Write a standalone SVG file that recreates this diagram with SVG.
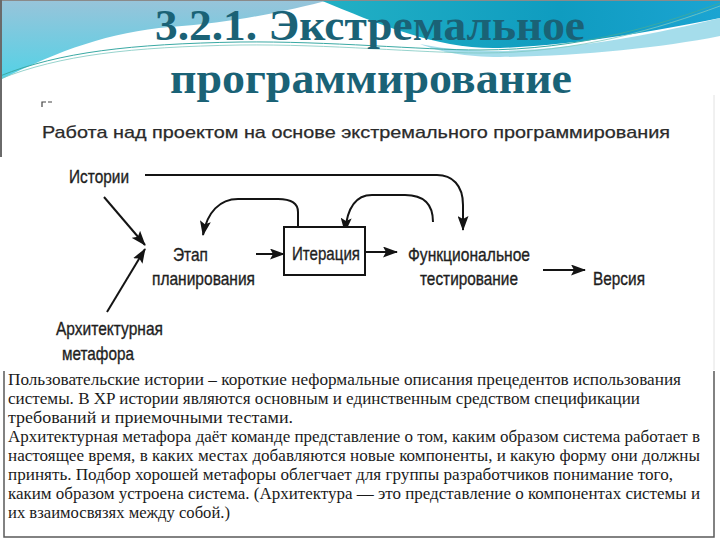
<svg xmlns="http://www.w3.org/2000/svg" width="720" height="540" viewBox="0 0 720 540">
<style>
.title{font-family:"Liberation Serif","Times New Roman",serif;font-weight:bold;font-size:45px;fill:#1a6276}
.lbl{font-family:"Liberation Sans",Arial,sans-serif;font-size:19px;fill:#1e1e1e;stroke:#1e1e1e;stroke-width:0.35}
.sub{font-family:"Liberation Sans",Arial,sans-serif;font-size:17px;fill:#2a2a2a;stroke:#2a2a2a;stroke-width:0.25}
.body{font-family:"Liberation Serif","Times New Roman",serif;font-size:16px;fill:#1a1a1a}
.con{fill:none;stroke:#141414;stroke-width:2}
</style>
<defs>
<linearGradient id="gLeft" x1="0" y1="0" x2="0" y2="1">
<stop offset="0" stop-color="#98c4da"/>
<stop offset="1" stop-color="#52d2e6"/>
</linearGradient>
<linearGradient id="gRight" x1="0" y1="0" x2="1" y2="0">
<stop offset="0" stop-color="#22b0c4"/>
<stop offset="0.6" stop-color="#0f9cc0"/>
<stop offset="1" stop-color="#1ba4d2"/>
</linearGradient>
<marker id="arr" markerUnits="userSpaceOnUse" markerWidth="15" markerHeight="11" refX="14" refY="5.5" orient="auto" viewBox="0 0 15 11">
<path d="M0,0 L15,5.5 L0,11 L3,5.5 Z" fill="#141414"/>
</marker>
</defs>

<rect x="0" y="0" width="720" height="540" fill="#ffffff"/>

<g id="background">
<path d="M0,0 H330 C290,10 240,22 170,27 C110,32 60,50 0,80 Z" fill="url(#gLeft)"/>
<path d="M320,0 H720 V18 C660,30 580,45 500,48 C440,50 380,25 320,0 Z" fill="url(#gRight)"/>
<path d="M420,44 C450,50 475,51 500,51 C580,49 660,33 720,18 V36 C660,48 580,56 500,57 C465,57 440,52 420,44 Z" fill="#8fd5e6" opacity="0.8"/>
<path d="M0,76 C60,52 130,44 240,42 C330,41 420,50 480,50 C580,50 660,25 720,3" fill="none" stroke="#3aa9a4" stroke-width="1"/>
<path d="M0,79 C60,55 130,47 240,45 C330,44 420,53 480,53 C580,53 660,28 720,6" fill="none" stroke="#7cc8c0" stroke-width="0.8"/>
<line x1="0" y1="0.5" x2="720" y2="0.5" stroke="#8a8a8a" stroke-width="1"/>
<rect x="0" y="0" width="2" height="157" fill="#6a6a6a"/>
<line x1="714" y1="95" x2="714" y2="370" stroke="#e2e2e2" stroke-width="1"/>
<path d="M42,107 V102 H46 M48,102 H52" fill="none" stroke="#444" stroke-width="1.2"/>
</g>

<g id="title">
<text class="title" x="155" y="40" textLength="430" lengthAdjust="spacingAndGlyphs">3.2.1. Экстремальное</text>
<text class="title" x="170" y="93" textLength="402" lengthAdjust="spacingAndGlyphs">программирование</text>
</g>

<g id="caption">
<text class="sub" x="42" y="138" textLength="628" lengthAdjust="spacingAndGlyphs">Работа над проектом на основе экстремального программирования</text>
</g>

<g id="connectors">
<line class="con" x1="104" y1="197" x2="145" y2="245" marker-end="url(#arr)"/>
<line class="con" x1="107" y1="312" x2="145" y2="249" marker-end="url(#arr)"/>
<line class="con" x1="256" y1="254" x2="284" y2="254" marker-end="url(#arr)"/>
<line class="con" x1="365" y1="252" x2="397" y2="252" marker-end="url(#arr)"/>
<line class="con" x1="543" y1="270" x2="585" y2="270" marker-end="url(#arr)"/>
<path class="con" d="M145,175 H437 C452,175 463,185 463,205 V230" marker-end="url(#arr)"/>
<path class="con" d="M298,227 V212 C298,203 290,199 278,199 H238 C220,199 207,212 203,235" marker-end="url(#arr)"/>
<path class="con" d="M433,222 C433,205 425,195 405,195 H372 C355,195 347,208 345,232" marker-end="url(#arr)"/>
</g>

<g id="node-stories">
<text class="lbl" x="69" y="183" textLength="60" lengthAdjust="spacingAndGlyphs">Истории</text>
</g>
<g id="node-metaphor">
<text class="lbl" x="56" y="335" textLength="107" lengthAdjust="spacingAndGlyphs">Архитектурная</text>
<text class="lbl" x="62" y="360" textLength="72" lengthAdjust="spacingAndGlyphs">метафора</text>
</g>
<g id="node-planning">
<text class="lbl" x="173" y="261" textLength="35" lengthAdjust="spacingAndGlyphs">Этап</text>
<text class="lbl" x="152" y="285" textLength="103" lengthAdjust="spacingAndGlyphs">планирования</text>
</g>
<g id="node-iteration">
<rect x="284" y="227" width="81" height="48" fill="#ffffff" stroke="#141414" stroke-width="2"/>
<text class="lbl" x="292" y="260" textLength="68" lengthAdjust="spacingAndGlyphs">Итерация</text>
</g>
<g id="node-testing">
<text class="lbl" x="408" y="261" textLength="122" lengthAdjust="spacingAndGlyphs">Функциональное</text>
<text class="lbl" x="420" y="285" textLength="98" lengthAdjust="spacingAndGlyphs">тестирование</text>
</g>
<g id="node-version">
<text class="lbl" x="593" y="285" textLength="52" lengthAdjust="spacingAndGlyphs">Версия</text>
</g>

<g id="notes">
<path d="M4,371 V537 H714 V371" fill="none" stroke="#5a5a5a" stroke-width="1.5"/>
<text class="body" x="8" y="385" textLength="673" lengthAdjust="spacingAndGlyphs">Пользовательские истории – короткие неформальные описания прецедентов использования</text>
<text class="body" x="8" y="404" textLength="632" lengthAdjust="spacingAndGlyphs">системы. В XP истории являются основным и единственным средством спецификации</text>
<text class="body" x="8" y="423" textLength="285" lengthAdjust="spacingAndGlyphs">требований и приемочными тестами.</text>
<text class="body" x="8" y="442" textLength="692" lengthAdjust="spacingAndGlyphs">Архитектурная метафора даёт команде представление о том, каким образом система работает в</text>
<text class="body" x="8" y="461" textLength="692" lengthAdjust="spacingAndGlyphs">настоящее время, в каких местах добавляются новые компоненты, и какую форму они должны</text>
<text class="body" x="8" y="480" textLength="665" lengthAdjust="spacingAndGlyphs">принять. Подбор хорошей метафоры облегчает для группы разработчиков понимание того,</text>
<text class="body" x="8" y="499" textLength="692" lengthAdjust="spacingAndGlyphs">каким образом устроена система. (Архитектура — это представление о компонентах системы и</text>
<text class="body" x="8" y="518" textLength="222" lengthAdjust="spacingAndGlyphs">их взаимосвязях между собой.)</text>
</g>
</svg>
